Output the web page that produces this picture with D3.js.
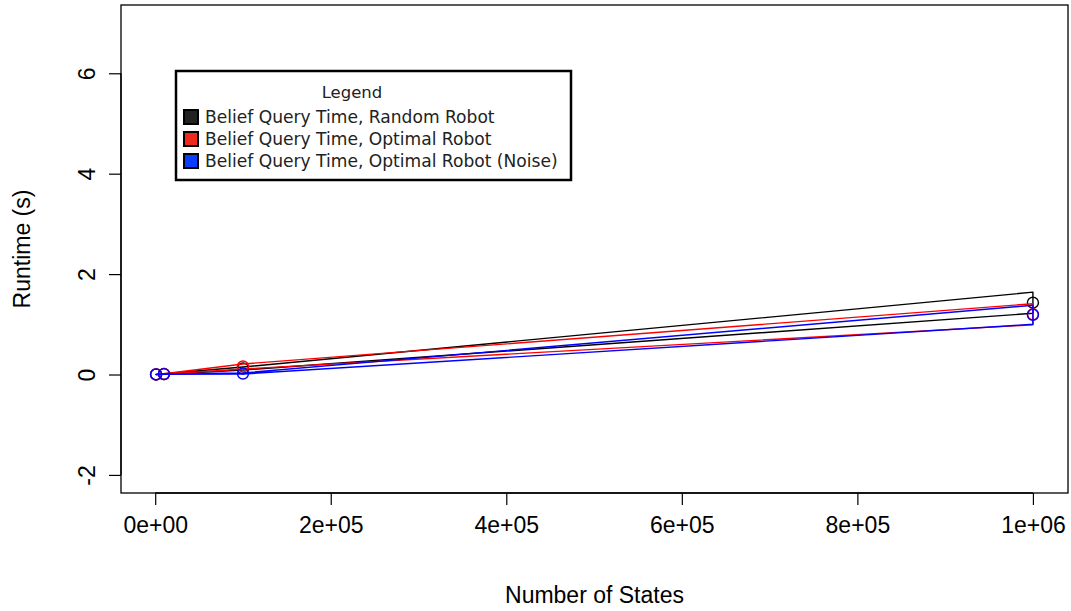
<!DOCTYPE html>
<html>
<head>
<meta charset="utf-8">
<script src="https://cdn.jsdelivr.net/npm/d3@7"></script>
<style>
  html, body { margin: 0; padding: 0; background: #fff; }
  svg { display: block; }
</style>
</head>
<body>
<svg id="chart" width="1071" height="611"></svg>
<script>
// Number of states in each benchmark run
const states = [1000, 10000, 100000, 1000000];

// Mean belief query time (s) and its standard deviation, per robot policy
const randomMean  = [0.001, 0.01, 0.12, 1.43];
const randomSd    = [0.0005, 0.004, 0.03, 0.21];
const optimalMean = [0.001, 0.01, 0.16, 1.20];
const optimalSd   = [0.0005, 0.004, 0.05, 0.21];
const noiseMean   = [0.001, 0.008, 0.02, 1.19];
const noiseSd     = [0.0005, 0.003, 0.01, 0.19];

const seriesNames = [
  "Belief Query Time, Random Robot",
  "Belief Query Time, Optimal Robot",
  "Belief Query Time, Optimal Robot (Noise)"
];
const seriesColors = ["#000000", "#ff0000", "#0000ff"];
const legendFills  = ["#222222", "#ee2a1a", "#0a3cff"];

const xTicks = [0, 200000, 400000, 600000, 800000, 1000000];
const xTickLabels = ["0e+00", "2e+05", "4e+05", "6e+05", "8e+05", "1e+06"];
const yTicks = [-2, 0, 2, 4, 6];
const yTickLabels = ["-2", "0", "2", "4", "6"];
const yLimits = [-2, 7];

const series = [
  { mean: randomMean,  sd: randomSd },
  { mean: optimalMean, sd: optimalSd },
  { mean: noiseMean,   sd: noiseSd }
].map((s, i) => ({
  name: seriesNames[i],
  color: seriesColors[i],
  fill: legendFills[i],
  pts: states.map((x, j) => ({ x, m: s.mean[j], lo: s.mean[j] - s.sd[j], hi: s.mean[j] + s.sd[j] }))
}));

const svg = d3.select("#chart");
const plot = { left: 121, right: 1068, top: 5, bottom: 493 };

// R-style 4% range extension
function extend([a, b]) { const d = (b - a) * 0.04; return [a - d, b + d]; }

const x = d3.scaleLinear().domain(extend(d3.extent(states))).range([plot.left, plot.right]);
const y = d3.scaleLinear().domain(extend(yLimits)).range([plot.bottom, plot.top]);

const axisFont = "'Liberation Sans', Arial, sans-serif";

// Bands: upper bound forward, lower bound back, closed outline
const band = d3.area()
  .x(d => x(d.x))
  .y0(d => y(d.lo))
  .y1(d => y(d.hi));

series.forEach(s => {
  svg.append("path")
    .attr("d", band(s.pts))
    .attr("fill", "none")
    .attr("stroke", s.color)
    .attr("stroke-width", 1.4)
    .attr("stroke-linejoin", "round");
  svg.append("g").selectAll("circle")
    .data(s.pts)
    .join("circle")
    .attr("cx", d => x(d.x))
    .attr("cy", d => y(d.m))
    .attr("r", 5.5)
    .attr("fill", "none")
    .attr("stroke", s.color)
    .attr("stroke-width", 1.4);
});

// Plot frame
svg.append("rect")
  .attr("x", plot.left).attr("y", plot.top)
  .attr("width", plot.right - plot.left).attr("height", plot.bottom - plot.top)
  .attr("fill", "none").attr("stroke", "#000").attr("stroke-width", 1.3);

// X axis
const xAxis = d3.axisBottom(x)
  .tickValues(xTicks)
  .tickFormat((d, i) => xTickLabels[i])
  .tickSizeOuter(0)
  .tickSizeInner(12)
  .tickPadding(12);
const gx = svg.append("g")
  .attr("transform", `translate(0,${plot.bottom})`)
  .call(xAxis);
gx.select(".domain").attr("d", `M${x(xTicks[0])},0H${x(xTicks[xTicks.length - 1])}`).attr("stroke-width", 1.3);
gx.selectAll(".tick line").attr("stroke-width", 1.2);
gx.selectAll("text").attr("font-family", axisFont).attr("font-size", 23).attr("fill", "#000");

// Y axis with labels turned to read upward
const yAxis = d3.axisLeft(y)
  .tickValues(yTicks)
  .tickFormat((d, i) => yTickLabels[i])
  .tickSizeOuter(0)
  .tickSizeInner(12);
const gy = svg.append("g")
  .attr("transform", `translate(${plot.left},0)`)
  .call(yAxis);
gy.select(".domain").attr("d", `M0,${y(yTicks[0])}V${y(yTicks[yTicks.length - 1])}`).attr("stroke-width", 1.3);
gy.selectAll(".tick line").attr("stroke-width", 1.2);
gy.selectAll(".tick text")
  .attr("x", null).attr("dy", null)
  .attr("transform", "translate(-26,0) rotate(-90)")
  .attr("text-anchor", "middle")
  .attr("dominant-baseline", "auto")
  .attr("y", 0)
  .attr("font-family", axisFont).attr("font-size", 23).attr("fill", "#000");

// Axis titles
svg.append("text")
  .attr("x", (plot.left + plot.right) / 2)
  .attr("y", 603)
  .attr("text-anchor", "middle")
  .attr("font-family", axisFont).attr("font-size", 23)
  .text("Number of States");
svg.append("text")
  .attr("transform", `translate(30,${(plot.top + plot.bottom) / 2}) rotate(-90)`)
  .attr("text-anchor", "middle")
  .attr("font-family", axisFont).attr("font-size", 23)
  .text("Runtime (s)");

// Legend
const legendFont = "'DejaVu Sans', Verdana, sans-serif";
const lg = svg.append("g").attr("transform", "translate(176,71)");
lg.append("rect")
  .attr("width", 395).attr("height", 109)
  .attr("fill", "#fff").attr("stroke", "#000").attr("stroke-width", 2.5);
lg.append("text")
  .attr("x", 176).attr("y", 27)
  .attr("text-anchor", "middle")
  .attr("font-family", legendFont).attr("font-size", 16.5).attr("fill", "#222")
  .text("Legend");
const items = lg.selectAll("g.item")
  .data(series)
  .join("g")
  .attr("class", "item")
  .attr("transform", (d, i) => `translate(8,${46 + i * 22})`);
items.append("rect")
  .attr("width", 14).attr("height", 14).attr("y", -7)
  .attr("fill", d => d.fill).attr("stroke", "#000").attr("stroke-width", 2);
items.append("text")
  .attr("x", 21).attr("y", 6)
  .attr("font-family", legendFont).attr("font-size", 17.1).attr("fill", "#222")
  .text(d => d.name);
</script>
</body>
</html>
